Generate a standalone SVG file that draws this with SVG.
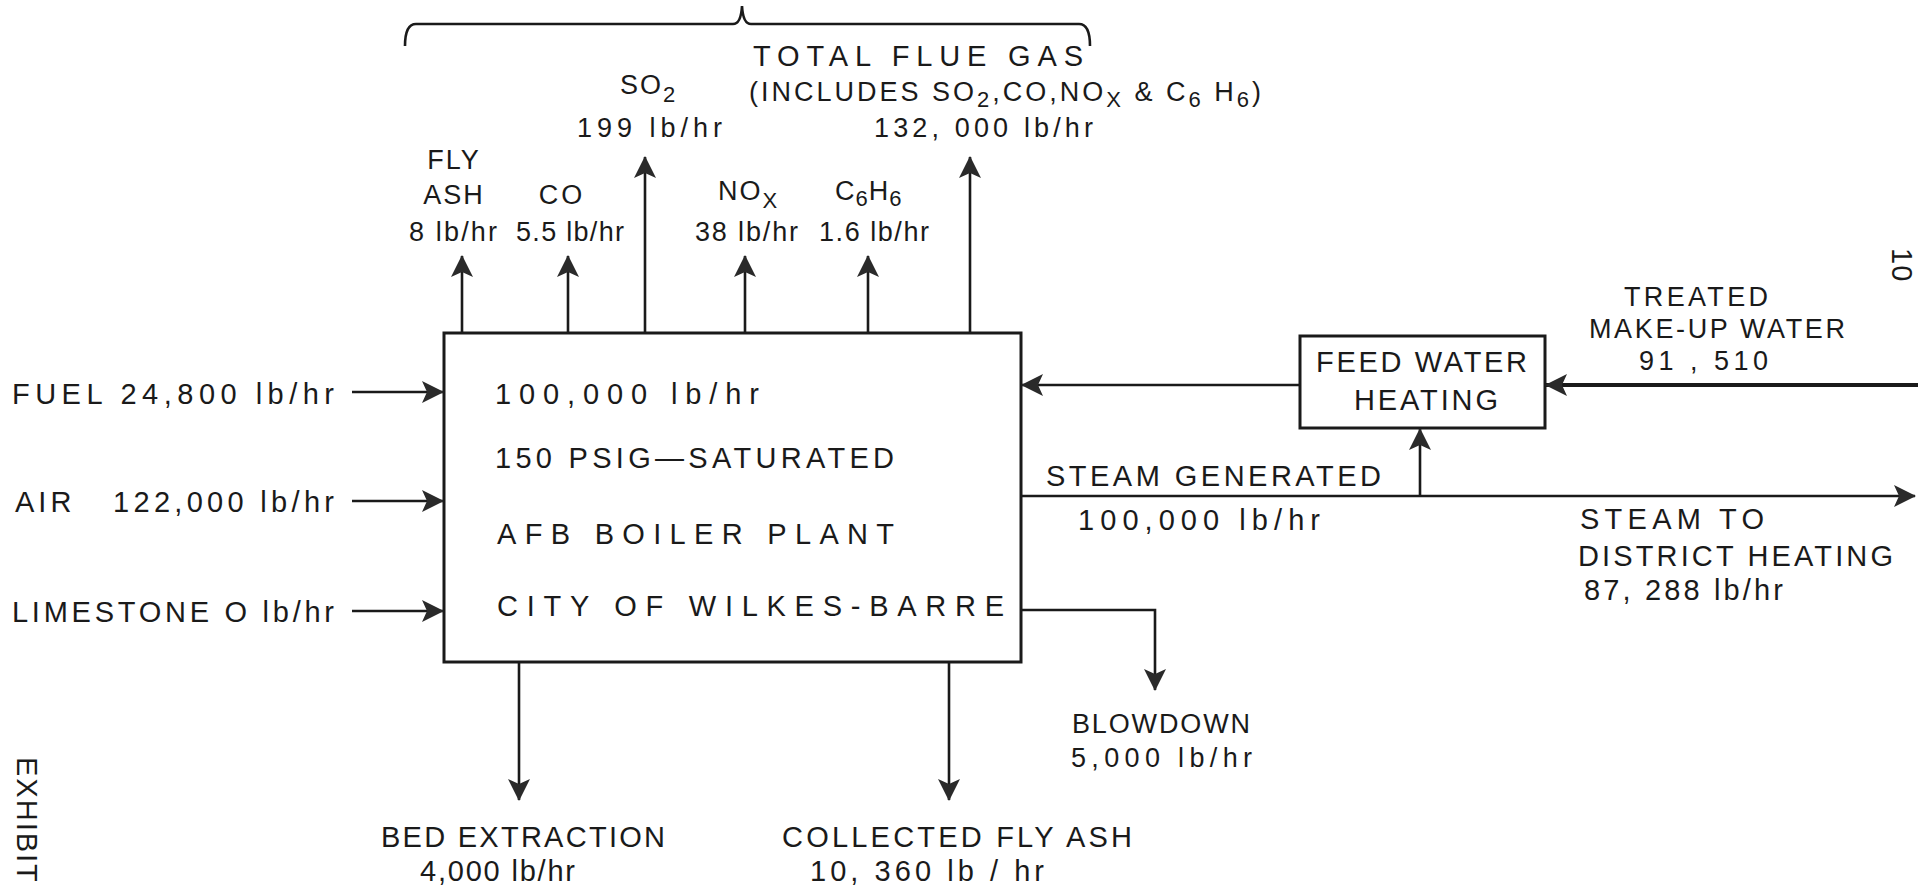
<svg xmlns="http://www.w3.org/2000/svg" width="1925" height="891" viewBox="0 0 1925 891">
<defs>
<style>
text{font-family:"Liberation Sans","DejaVu Sans",sans-serif;fill:#1a1a1a;font-size:29px}
.sm{font-size:27px}
.ln{stroke:#1a1a1a;stroke-width:2.6;fill:none}
.box{stroke:#1a1a1a;stroke-width:3;fill:none}
</style>
<marker id="ah" viewBox="0 0 22 24" markerWidth="22" markerHeight="24" refX="21" refY="12" orient="auto" markerUnits="userSpaceOnUse">
<path d="M0,1 L22,12 L0,23 L5,12 Z" fill="#2a2a2a"/>
</marker>
</defs>
<rect width="1925" height="891" fill="#ffffff"/>

<g id="boiler">
<rect class="box" x="444" y="333" width="577" height="329"/>
<text x="495" y="404" textLength="264" lengthAdjust="spacing">100,000 lb/hr</text>
<text x="495" y="468" textLength="399" lengthAdjust="spacing">150 PSIG—SATURATED</text>
<text x="497" y="544" textLength="397" lengthAdjust="spacing">AFB BOILER PLANT</text>
<text x="497" y="616" textLength="507" lengthAdjust="spacing">CITY OF WILKES-BARRE</text>
</g>

<g id="feedwater">
<rect class="box" x="1300" y="336" width="245" height="92"/>
<text x="1316" y="372" textLength="211" lengthAdjust="spacing">FEED WATER</text>
<text x="1354" y="410" textLength="144" lengthAdjust="spacing">HEATING</text>
</g>

<g id="connectors">
<path class="ln" d="M405,46 Q405,24 416,24 L733,24 Q741,24 742,6 Q743,24 751,24 L1079,24 Q1090,24 1090,46"/>
<line class="ln" x1="462" y1="333" x2="462" y2="256" marker-end="url(#ah)"/>
<line class="ln" x1="568" y1="333" x2="568" y2="256" marker-end="url(#ah)"/>
<line class="ln" x1="645" y1="333" x2="645" y2="157" marker-end="url(#ah)"/>
<line class="ln" x1="745" y1="333" x2="745" y2="256" marker-end="url(#ah)"/>
<line class="ln" x1="868" y1="333" x2="868" y2="256" marker-end="url(#ah)"/>
<line class="ln" x1="970" y1="333" x2="970" y2="157" marker-end="url(#ah)"/>
<line class="ln" x1="352" y1="392" x2="443" y2="392" marker-end="url(#ah)"/>
<line class="ln" x1="352" y1="501" x2="443" y2="501" marker-end="url(#ah)"/>
<line class="ln" x1="352" y1="611" x2="443" y2="611" marker-end="url(#ah)"/>
<line class="ln" x1="1300" y1="385" x2="1022" y2="385" marker-end="url(#ah)"/>
<line class="ln" x1="1918" y1="385" x2="1546" y2="385" marker-end="url(#ah)" style="stroke-width:4"/>
<line class="ln" x1="1021" y1="496" x2="1915" y2="496" marker-end="url(#ah)"/>
<line class="ln" x1="1420" y1="496" x2="1420" y2="429" marker-end="url(#ah)"/>
<polyline class="ln" points="1021,610 1155,610 1155,690" marker-end="url(#ah)"/>
<line class="ln" x1="519" y1="662" x2="519" y2="800" marker-end="url(#ah)"/>
<line class="ln" x1="949" y1="662" x2="949" y2="800" marker-end="url(#ah)"/>
</g>

<g id="labels-top">
<text class="sm" x="454" y="169" text-anchor="middle" letter-spacing="2">FLY</text>
<text class="sm" x="454" y="204" text-anchor="middle" letter-spacing="2">ASH</text>
<text class="sm" x="562" y="204" text-anchor="middle" letter-spacing="3">CO</text>
<text class="sm" x="409" y="241" textLength="88" lengthAdjust="spacing">8 lb/hr</text>
<text class="sm" x="516" y="241" textLength="108" lengthAdjust="spacing">5.5 lb/hr</text>
<text class="sm" x="620" y="94" letter-spacing="2">SO<tspan dy="8" font-size="22">2</tspan></text>
<text class="sm" x="577" y="137" textLength="145" lengthAdjust="spacing">199 lb/hr</text>
<text class="sm" x="718" y="200" letter-spacing="2">NO<tspan dy="8" font-size="22">X</tspan></text>
<text class="sm" x="835" y="200" letter-spacing="1">C<tspan dy="6" font-size="22">6</tspan><tspan dy="-6">H</tspan><tspan dy="6" font-size="22">6</tspan></text>
<text class="sm" x="695" y="241" textLength="103" lengthAdjust="spacing">38 lb/hr</text>
<text class="sm" x="819" y="241" textLength="110" lengthAdjust="spacing">1.6 lb/hr</text>
<text x="753" y="66" textLength="330" lengthAdjust="spacing">TOTAL FLUE GAS</text>
<text class="sm" x="749" y="101" letter-spacing="3">(INCLUDES SO<tspan dy="6" font-size="22">2</tspan><tspan dy="-6">,CO,NO</tspan><tspan dy="6" font-size="22">X</tspan><tspan dy="-6"> &amp; C</tspan><tspan dy="6" font-size="22">6</tspan><tspan dy="-6"> H</tspan><tspan dy="6" font-size="22">6</tspan><tspan dy="-6">)</tspan></text>
<text class="sm" x="874" y="137" textLength="219" lengthAdjust="spacing">132, 000 lb/hr</text>
</g>

<g id="labels-left">
<text x="12" y="404" textLength="322" lengthAdjust="spacing">FUEL 24,800 lb/hr</text>
<text x="15" y="512" letter-spacing="4">AIR</text>
<text x="113" y="512" textLength="221" lengthAdjust="spacing">122,000 lb/hr</text>
<text x="12" y="622" textLength="322" lengthAdjust="spacing">LIMESTONE O lb/hr</text>
</g>

<g id="labels-right">
<text class="sm" x="1624" y="306" textLength="144" lengthAdjust="spacing">TREATED</text>
<text class="sm" x="1589" y="338" textLength="256" lengthAdjust="spacing">MAKE-UP WATER</text>
<text class="sm" x="1639" y="370" textLength="129" lengthAdjust="spacing">91 , 510</text>
<text x="1046" y="486" textLength="335" lengthAdjust="spacing">STEAM GENERATED</text>
<text x="1078" y="530" textLength="242" lengthAdjust="spacing">100,000 lb/hr</text>
<text x="1580" y="529" textLength="184" lengthAdjust="spacing">STEAM TO</text>
<text x="1578" y="566" textLength="315" lengthAdjust="spacing">DISTRICT HEATING</text>
<text x="1584" y="600" textLength="199" lengthAdjust="spacing">87, 288 lb/hr</text>
<text class="sm" x="1072" y="733" textLength="178" lengthAdjust="spacing">BLOWDOWN</text>
<text class="sm" x="1071" y="767" textLength="181" lengthAdjust="spacing">5,000 lb/hr</text>
</g>

<g id="labels-bottom">
<text x="381" y="847" textLength="284" lengthAdjust="spacing">BED EXTRACTION</text>
<text x="420" y="881" textLength="155" lengthAdjust="spacing">4,000 lb/hr</text>
<text x="782" y="847" textLength="350" lengthAdjust="spacing">COLLECTED FLY ASH</text>
<text x="810" y="881" textLength="234" lengthAdjust="spacing">10, 360 lb / hr</text>
</g>

<g id="margin">
<text transform="translate(17,757) rotate(90)" font-size="28" letter-spacing="2">EXHIBIT</text>
<text transform="translate(1892,248) rotate(90)" font-size="28" letter-spacing="1">10</text>
</g>
</svg>
